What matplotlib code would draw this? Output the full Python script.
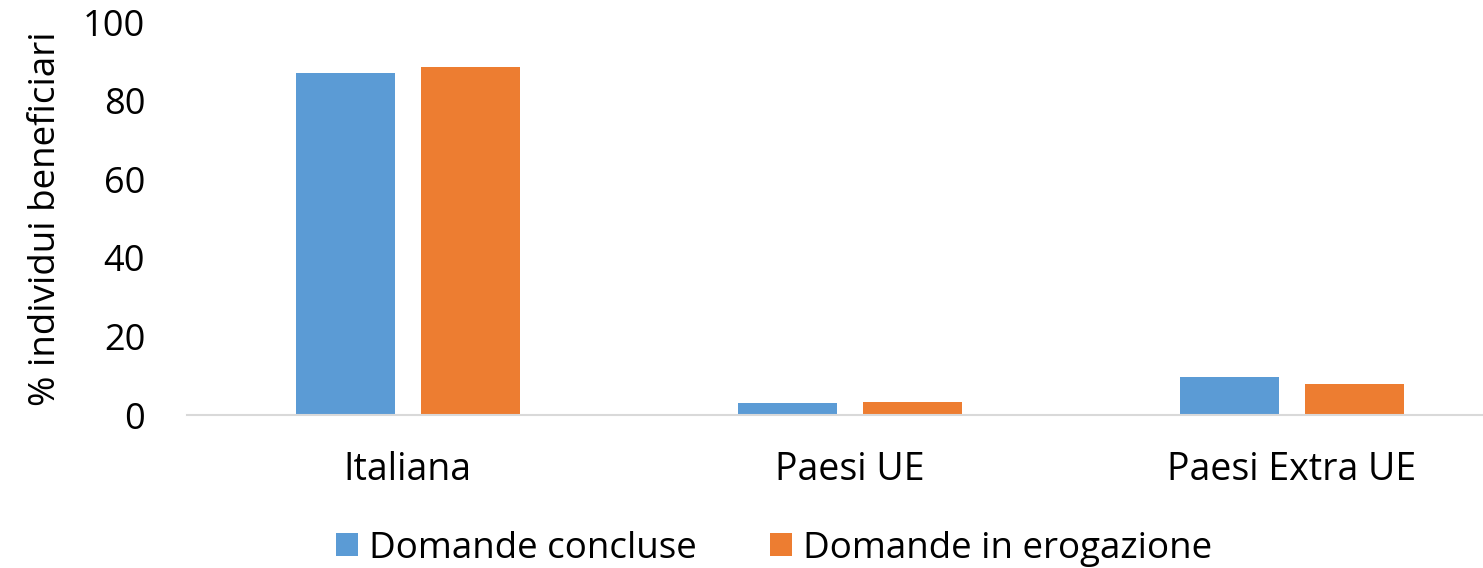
import numpy as np
import matplotlib
matplotlib.use("Agg")
import matplotlib.pyplot as plt

# data
categories = ["Italiana", "Paesi UE", "Paesi Extra UE"]
domande_concluse = [87.1, 3.1, 9.6]
domande_erogazione = [88.5, 3.4, 8.0]
series_labels = ["Domande concluse", "Domande in erogazione"]

plt.rcParams['font.family'] = ['Open Sans', 'DejaVu Sans']

fig = plt.figure(figsize=(14.83, 5.68), dpi=100)
ax = fig.add_axes([0.126, 0.269, 0.894, 0.692])

x = np.arange(len(categories))
w = 0.224
off = 0.141
ax.bar(x - off, domande_concluse, w, color='#5B9BD5', label=series_labels[0])
ax.bar(x + off, domande_erogazione, w, color='#ED7D31', label=series_labels[1])

ax.set_xlim(-0.5, 2.5)
ax.set_ylim(0, 100)
ax.set_yticks([0, 20, 40, 60, 80, 100])
ax.set_xticks(x)
ax.set_xticklabels(categories, fontsize=27)
ax.tick_params(axis='both', length=0)
ax.tick_params(axis='y', labelsize=26, pad=30)
ax.tick_params(axis='x', pad=26)

for s in ['top', 'right', 'left']:
    ax.spines[s].set_visible(False)
ax.spines['bottom'].set_color('#d9d9d9')
ax.spines['bottom'].set_linewidth(1.5)

ax.set_ylabel("% individui beneficiari", fontsize=26.5)
ax.yaxis.set_label_coords(-0.093, 0.5)

fig.legend(loc='center', bbox_to_anchor=(0.522, 0.034), ncol=2, frameon=False,
           fontsize=26.5, handlelength=0.6, handleheight=0.6, columnspacing=2.0,
           handletextpad=0.3)

fig.savefig("out.png", dpi=100)
